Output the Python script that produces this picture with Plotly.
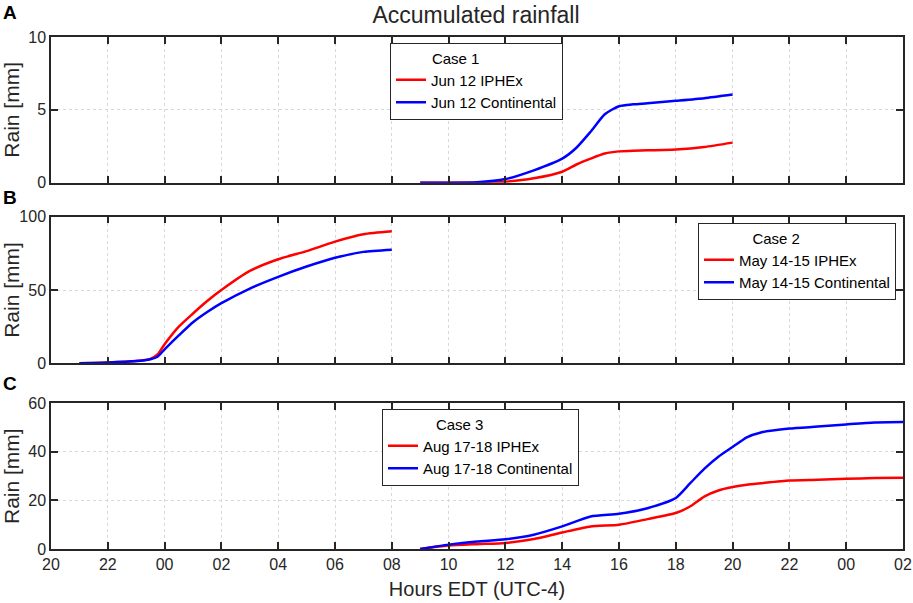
import plotly.graph_objects as go
from plotly.subplots import make_subplots

# hours since 00:00 of day 1 (24 = 00:00 next day)
tick_vals = list(range(20, 51, 2))
tick_text = ["20", "22", "00", "02", "04", "06", "08", "10", "12", "14",
             "16", "18", "20", "22", "00", "02"]

# Case 1 - Jun 12
hours_c1 = [33, 34, 35, 36, 37, 38, 38.5, 39, 39.5, 40, 40.5, 41, 42, 43, 44]
iphex_c1 = [0, 0, 0, 0.07, 0.3, 0.75, 1.25, 1.65, 2.0, 2.15, 2.2, 2.22, 2.28, 2.45, 2.75]
cont_c1 = [0, 0, 0.03, 0.25, 0.85, 1.65, 2.4, 3.5, 4.7, 5.25, 5.38, 5.45, 5.62, 5.8, 6.05]

# Case 2 - May 14-15
hours_c2 = [21, 22, 23, 23.5, 23.75, 24, 24.5, 25, 25.5, 26, 27, 28, 29, 30, 31, 32]
iphex_c2 = [0, 0.5, 1.5, 3, 6, 13, 25, 34, 42.5, 50, 63, 71, 76.5, 83, 88, 90]
cont_c2 = [0, 0.5, 1.5, 2.8, 4.5, 9.5, 19, 28, 35, 41, 51, 59, 66, 72, 76, 77.5]

# Case 3 - Aug 17-18
hours_c3 = [33, 34, 35, 36, 37, 38, 39, 40, 41, 42, 42.5, 43, 43.5, 44, 44.5,
            45, 46, 47, 48, 49, 50]
iphex_c3 = [0, 1.4, 2.0, 2.5, 4.1, 6.8, 9.3, 10.0, 12.3, 14.8, 17.5, 21.6, 24.1,
            25.5, 26.5, 27.1, 28.2, 28.5, 28.9, 29.2, 29.3]
cont_c3 = [0, 1.8, 3.1, 4.0, 5.9, 9.3, 13.4, 14.5, 16.8, 21, 27, 33, 38, 42, 46,
           48, 49.6, 50.4, 51.3, 52.1, 52.3]

cases = [
    (hours_c1, iphex_c1, cont_c1, "Jun 12", "Case 1", "legend"),
    (hours_c2, iphex_c2, cont_c2, "May 14-15", "Case 2", "legend2"),
    (hours_c3, iphex_c3, cont_c3, "Aug 17-18", "Case 3", "legend3"),
]

font = "Liberation Sans, Arial, sans-serif"
axcol = "#262626"

W, H = 913, 603
ML, MR, MT, MB = 51, 10, 37, 54
pw, ph = W - ML - MR, H - MT - MB

# pixel position in the picture -> paper coordinates
def px(x):
    return (x - ML) / pw

def py(y):
    return (H - MB - y) / ph

fig = make_subplots(rows=3, cols=1)

for i, (h, red, blue, date, case, leg) in enumerate(cases, start=1):
    fig.add_trace(go.Scatter(x=h, y=red, mode="lines", name=f"{date} IPHEx",
                             line=dict(color="#ff0000", width=2.5, shape="spline",
                                       smoothing=0.6), legend=leg),
                  row=i, col=1)
    fig.add_trace(go.Scatter(x=h, y=blue, mode="lines", name=f"{date} Continental",
                             line=dict(color="#0000ff", width=2.5, shape="spline",
                                       smoothing=0.6), legend=leg),
                  row=i, col=1)

domains = [[py(182.7), 1.0], [py(363.3), py(216.7)], [0.0, py(403.3)]]
yranges = [[0, 10], [0, 100], [0, 60]]
ydticks = [5, 50, 20]
for i in range(3):
    fig.update_xaxes(range=[20, 50], tickvals=tick_vals, ticktext=tick_text,
                     showticklabels=(i == 2), showline=True, linecolor=axcol,
                     linewidth=1.5, mirror="ticks", ticks="inside", ticklen=7,
                     tickcolor=axcol, tickwidth=1.5, showgrid=True,
                     gridcolor="#d8d8d8", griddash="dot", gridwidth=1,
                     zeroline=False, ticklabeloverflow="allow", automargin=False,
                     tickfont=dict(size=16, color="#262626"),
                     row=i + 1, col=1)
    fig.update_yaxes(range=yranges[i], dtick=ydticks[i], domain=domains[i],
                     showline=True, linecolor=axcol, linewidth=1.5,
                     mirror="ticks", ticks="inside", ticklen=7, tickcolor=axcol,
                     tickwidth=1.5, showgrid=True, gridcolor="#d8d8d8",
                     griddash="dot", gridwidth=1, zeroline=False, automargin=False,
                     tickfont=dict(size=16, color="#262626"),
                     title=dict(text="Rain [mm]", font=dict(size=21, color="#262626"),
                                standoff=4),
                     row=i + 1, col=1)

fig.update_xaxes(title=dict(text="Hours EDT (UTC-4)", font=dict(size=20, color="#262626"),
                            standoff=10), row=3, col=1)

# trailing spaces pull the centred legend title towards the entry text
pad = "&nbsp;" * 10
leg_style = dict(bgcolor="white", bordercolor="#262626", borderwidth=1,
                 font=dict(size=15, color="black"), yanchor="top",
                 tracegroupgap=0, itemwidth=30)
leg_title_font = dict(size=15, color="black")
fig.update_layout(
    legend=dict(x=px(390), y=py(43), xanchor="left",
                title=dict(text="Case 1" + pad, side="top center", font=leg_title_font),
                **leg_style),
    legend2=dict(x=px(896), y=py(223), xanchor="right",
                 title=dict(text="Case 2" + pad, side="top center", font=leg_title_font),
                 **leg_style),
    legend3=dict(x=px(382), y=py(409), xanchor="left",
                 title=dict(text="Case 3" + pad, side="top center", font=leg_title_font),
                 **leg_style),
)

for label, ypos in [("A", 12), ("B", 197), ("C", 383)]:
    fig.add_annotation(text=f"<b>{label}</b>", xref="paper", yref="paper",
                       x=px(10), y=py(ypos),
                       showarrow=False, font=dict(size=19, color="black"),
                       xanchor="center", yanchor="middle")

fig.update_layout(
    width=W, height=H,
    margin=dict(l=ML, r=MR, t=MT, b=MB),
    paper_bgcolor="white", plot_bgcolor="white",
    font=dict(family=font, color="#262626"),
    title=dict(text="Accumulated rainfall", x=px(476), xref="paper",
               y=1 - 15 / H, yref="container", xanchor="center",
               yanchor="middle", font=dict(size=23, color="#262626")),
)

# drop the default page margin so the figure sits at the window's corner
fig.write_html("out.html", config={"displayModeBar": False},
               post_script="document.body.style.margin='0';"
                           "document.body.style.overflow='hidden';")
